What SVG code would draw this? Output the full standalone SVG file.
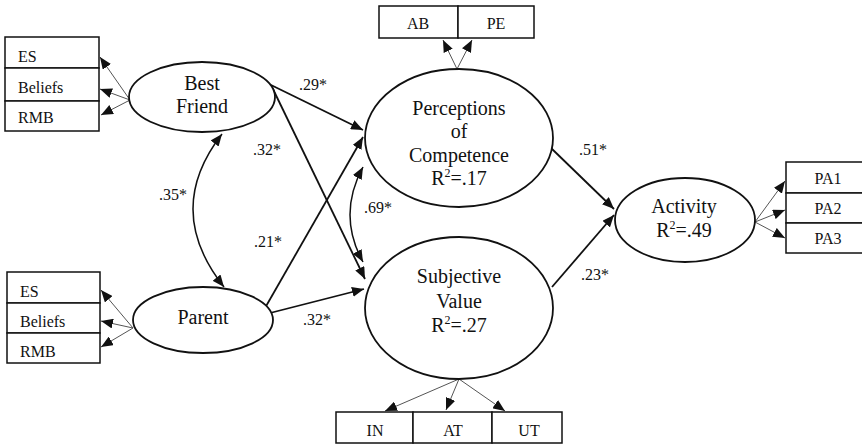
<svg xmlns="http://www.w3.org/2000/svg" width="862" height="445" viewBox="0 0 862 445">
<style>
  .box{fill:#fff;stroke:#111;stroke-width:1.5}
  .ell{fill:#fff;stroke:#111;stroke-width:1.8}
  text{font-family:'Liberation Serif','DejaVu Serif',serif;fill:#111}
  .bt{font-size:16px}
  .nt{font-size:20px;text-anchor:middle}
  .lb{font-size:16px;text-anchor:middle}
  .ind{fill:none;stroke:#555;stroke-width:1;marker-end:url(#ah)}
  .pth{fill:none;stroke:#111;stroke-width:1.8;marker-end:url(#ah)}
  .cor{fill:none;stroke:#111;stroke-width:1.5;marker-start:url(#ah);marker-end:url(#ah)}
</style>
<defs>
  <marker id="ah" markerUnits="userSpaceOnUse" markerWidth="13" markerHeight="10" refX="12" refY="5" orient="auto-start-reverse">
    <path d="M0,0 L12,5 L0,10 z" fill="#111"/>
  </marker>
</defs>
<rect width="862" height="445" fill="#fff"/>

<g id="connectors">
  <line class="ind" x1="130" y1="100" x2="100" y2="57"/>
  <line class="ind" x1="130" y1="100" x2="100" y2="89"/>
  <line class="ind" x1="130" y1="100" x2="101" y2="115"/>
  <line class="ind" x1="133" y1="328" x2="101" y2="290"/>
  <line class="ind" x1="133" y1="328" x2="101" y2="321"/>
  <line class="ind" x1="133" y1="328" x2="101" y2="347"/>
  <line class="ind" x1="457" y1="69" x2="443" y2="40"/>
  <line class="ind" x1="457" y1="69" x2="472" y2="40"/>
  <line class="ind" x1="459" y1="379" x2="385" y2="411"/>
  <line class="ind" x1="459" y1="379" x2="446" y2="410"/>
  <line class="ind" x1="459" y1="379" x2="505" y2="411"/>
  <line class="ind" x1="755" y1="222" x2="785" y2="181"/>
  <line class="ind" x1="755" y1="222" x2="785" y2="210"/>
  <line class="ind" x1="755" y1="222" x2="785" y2="238"/>

  <line class="pth" x1="271" y1="85" x2="363" y2="130"/>
  <line class="pth" x1="271" y1="85" x2="365" y2="279"/>
  <line class="pth" x1="265" y1="308" x2="363" y2="137"/>
  <line class="pth" x1="270" y1="313" x2="364" y2="289"/>
  <line class="pth" x1="551" y1="148" x2="614" y2="209"/>
  <line class="pth" x1="552" y1="287" x2="614" y2="215"/>
  <path class="cor" d="M222,134 Q163,210 224,287"/>
  <path class="cor" d="M363,167 Q337,215 363,262"/>

  <text class="lb" x="313" y="90">.29*</text>
  <text class="lb" x="267" y="155">.32*</text>
  <text class="lb" x="268" y="247">.21*</text>
  <text class="lb" x="173" y="200">.35*</text>
  <text class="lb" x="378" y="213">.69*</text>
  <text class="lb" x="317" y="325">.32*</text>
  <text class="lb" x="593" y="155">.51*</text>
  <text class="lb" x="595" y="280">.23*</text>
</g>

<g id="bf-indicators">
  <rect class="box" x="5" y="37" width="94" height="31"/>
  <rect class="box" x="5" y="68" width="94" height="33"/>
  <rect class="box" x="5" y="101" width="94" height="30"/>
  <text class="bt" x="18" y="62">ES</text>
  <text class="bt" x="18" y="93">Beliefs</text>
  <text class="bt" x="18" y="123">RMB</text>
</g>

<g id="parent-indicators">
  <rect class="box" x="7" y="272" width="93" height="31"/>
  <rect class="box" x="7" y="303" width="93" height="30"/>
  <rect class="box" x="7" y="333" width="93" height="30"/>
  <text class="bt" x="20" y="297">ES</text>
  <text class="bt" x="20" y="327">Beliefs</text>
  <text class="bt" x="20" y="357">RMB</text>
</g>

<g id="pc-indicators">
  <rect class="box" x="379" y="6" width="79" height="32"/>
  <rect class="box" x="458" y="6" width="76" height="32"/>
  <text class="bt" x="418" y="29" text-anchor="middle">AB</text>
  <text class="bt" x="496" y="29" text-anchor="middle">PE</text>
</g>

<g id="sv-indicators">
  <rect class="box" x="336" y="412" width="77" height="31"/>
  <rect class="box" x="413" y="412" width="79" height="31"/>
  <rect class="box" x="492" y="412" width="70" height="31"/>
  <text class="bt" x="375" y="436" text-anchor="middle">IN</text>
  <text class="bt" x="453" y="436" text-anchor="middle">AT</text>
  <text class="bt" x="529" y="436" text-anchor="middle">UT</text>
</g>

<g id="activity-indicators">
  <rect class="box" x="786" y="162" width="90" height="31"/>
  <rect class="box" x="786" y="193" width="90" height="30"/>
  <rect class="box" x="786" y="223" width="90" height="30"/>
  <text class="bt" x="828" y="184" text-anchor="middle">PA1</text>
  <text class="bt" x="828" y="214" text-anchor="middle">PA2</text>
  <text class="bt" x="828" y="244" text-anchor="middle">PA3</text>
</g>

<g id="best-friend">
  <ellipse class="ell" cx="202" cy="97" rx="73" ry="35"/>
  <text class="nt" x="202" y="90">Best</text>
  <text class="nt" x="202" y="113">Friend</text>
</g>

<g id="parent">
  <ellipse class="ell" cx="203" cy="320" rx="70" ry="33"/>
  <text class="nt" x="203" y="324">Parent</text>
</g>

<g id="perceptions">
  <ellipse class="ell" cx="459" cy="138" rx="94" ry="69"/>
  <text class="nt" x="459" y="115">Perceptions</text>
  <text class="nt" x="459" y="138">of</text>
  <text class="nt" x="459" y="162">Competence</text>
  <text class="nt" x="459" y="185">R<tspan font-size="12" dy="-8">2</tspan><tspan dy="8">=.17</tspan></text>
</g>

<g id="subjective">
  <ellipse class="ell" cx="459" cy="308" rx="94" ry="71"/>
  <text class="nt" x="459" y="283">Subjective</text>
  <text class="nt" x="459" y="308">Value</text>
  <text class="nt" x="459" y="332">R<tspan font-size="12" dy="-8">2</tspan><tspan dy="8">=.27</tspan></text>
</g>

<g id="activity">
  <ellipse class="ell" cx="685" cy="220" rx="70" ry="42"/>
  <text class="nt" x="684" y="213">Activity</text>
  <text class="nt" x="684" y="237">R<tspan font-size="12" dy="-8">2</tspan><tspan dy="8">=.49</tspan></text>
</g>
</svg>
